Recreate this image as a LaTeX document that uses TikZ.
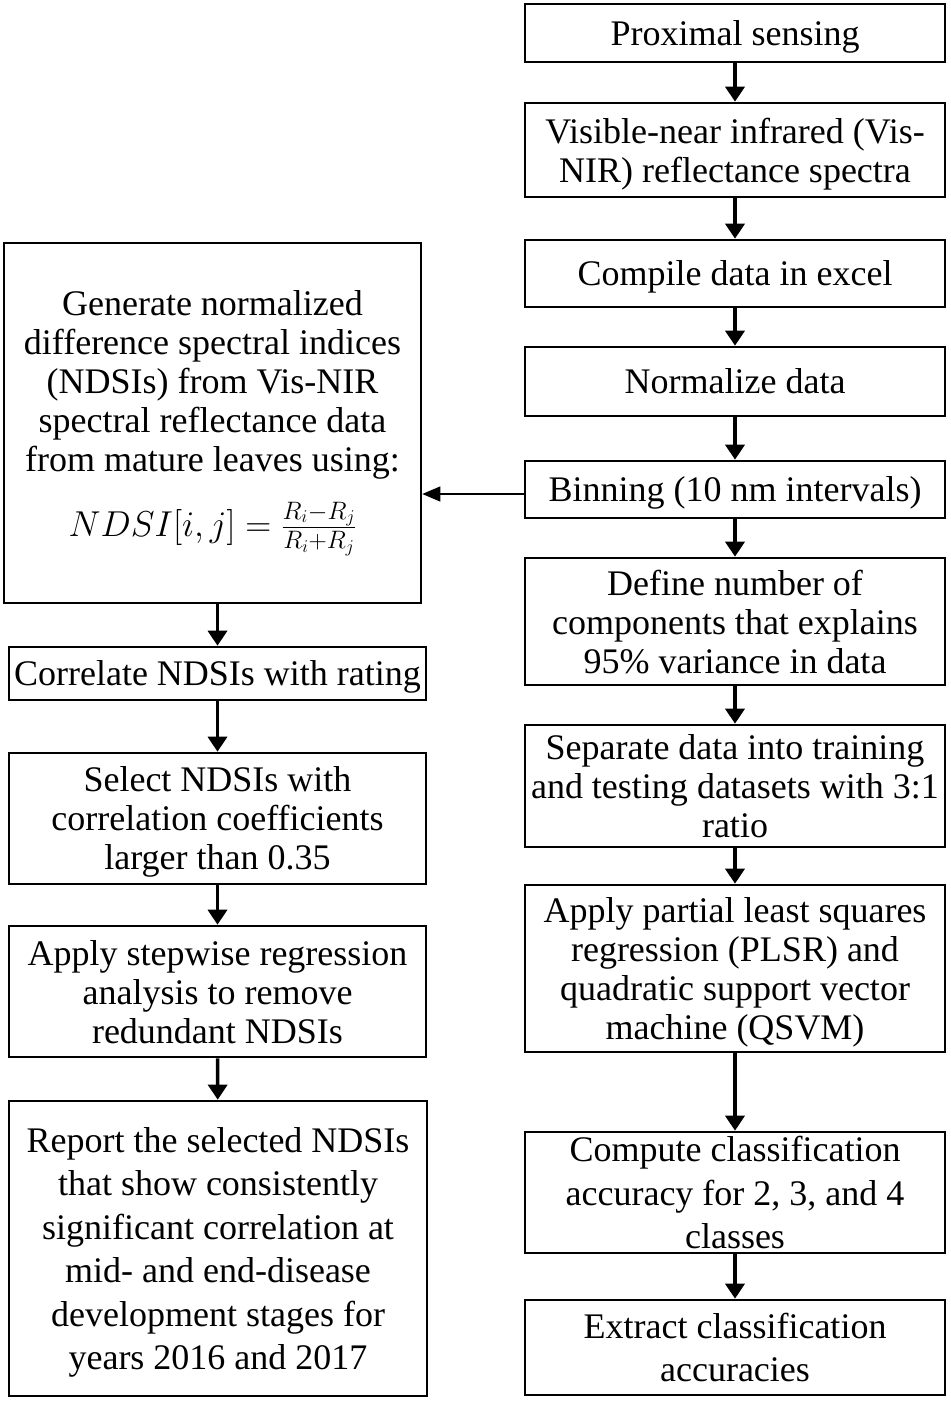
\RequirePackage{fix-cm}
\documentclass[tikz,border=0pt]{standalone}
\usepackage{fontspec}
\setmainfont{Liberation Serif}
\usepackage{graphicx}
\usetikzlibrary{arrows.meta}
\tikzset{
  basebox/.style={draw, line width=2.6pt, align=center, inner sep=0pt, anchor=center,
    font=\fontsize{36}{39}\selectfont},
  box/.style={basebox, text depth=0pt},
  boxb/.style={box, font=\fontsize{36}{43.5}\selectfont},
  arr/.style={line width=3.5pt, -{Triangle[width=19pt,length=15pt]}},
  thinarr/.style={line width=1.2pt, -{Triangle[width=15pt,length=18pt]}},
}
\begin{document}
\begin{tikzpicture}[x=1pt,y=-1pt]
\useasboundingbox (0,0) rectangle (950,1402);
% right column
\node[box, minimum width=420pt, minimum height=58pt] (r1) at (735,33) {Proximal sensing};
\node[box, minimum width=420pt, minimum height=94pt] (r2) at (735,150) {Visible-near infrared (Vis-\\NIR) reflectance spectra};
\node[box, minimum width=420pt, minimum height=67pt] (r3) at (735,273.5) {Compile data in excel};
\node[box, minimum width=420pt, minimum height=69pt] (r4) at (735,381.5) {Normalize data};
\node[box, minimum width=420pt, minimum height=57pt] (r5) at (735,489.5) {Binning (10 nm intervals)};
\node[box, minimum width=420pt, minimum height=127pt] (r6) at (735,621.5) {Define number of\\components that explains\\95\% variance in data};
\node[box, minimum width=420pt, minimum height=122pt] (r7) at (735,786) {Separate data into training\\and testing datasets with 3:1\\ratio};
\node[box, minimum width=420pt, minimum height=167pt] (r8) at (735,968.5) {Apply partial least squares\\regression (PLSR) and\\quadratic support vector\\machine (QSVM)};
\node[boxb, minimum width=420pt, minimum height=121pt] (r9) at (735,1192.5) {Compute classification\\accuracy for 2, 3, and 4\\classes};
\node[boxb, minimum width=420pt, minimum height=95pt] (r10) at (735,1347.5) {Extract classification\\accuracies};
% left column
\node[basebox, minimum width=417pt, minimum height=360pt] (l1) at (212.5,423) {Generate normalized\\difference spectral indices\\(NDSIs) from Vis-NIR\\spectral reflectance data\\from mature leaves using:\\[22pt]{\fontsize{36}{40}\selectfont $NDSI[i,j]=\frac{R_i-R_j}{R_i+R_j}$}};
\node[box, minimum width=417pt, minimum height=53pt] (l2) at (217.5,673.5) {Correlate NDSIs with rating};
\node[box, minimum width=417pt, minimum height=131pt] (l3) at (217.5,818.5) {Select NDSIs with\\correlation coefficients\\larger than 0.35};
\node[box, minimum width=417pt, minimum height=131pt] (l4) at (217.5,991.5) {Apply stepwise regression\\analysis to remove\\redundant NDSIs};
\node[boxb, minimum width=418pt, minimum height=295pt] (l5) at (218,1248.5) {Report the selected NDSIs\\that show consistently\\significant correlation at\\mid- and end-disease\\development stages for\\years 2016 and 2017};
% arrows right
\draw[arr] (r1) -- (r2);
\draw[arr] (r2) -- (r3);
\draw[arr] (r3) -- (r4);
\draw[arr] (r4) -- (r5);
\draw[arr] (r5) -- (r6);
\draw[arr] (r6) -- (r7);
\draw[arr] (r7) -- (r8);
\draw[arr] (r8) -- (r9);
\draw[arr] (r9) -- (r10);
% arrows left
\draw[arr] (l1.south -| l2.north) -- (l2.north);
\draw[arr] (l2) -- (l3);
\draw[arr] (l3) -- (l4);
\draw[arr] (l4) -- (l5);
% cross arrow
\draw[thinarr] ([yshift=-4.5pt]r5.west) -- ([yshift=-4.5pt]l1.east |- r5.west);
\end{tikzpicture}
\end{document}
